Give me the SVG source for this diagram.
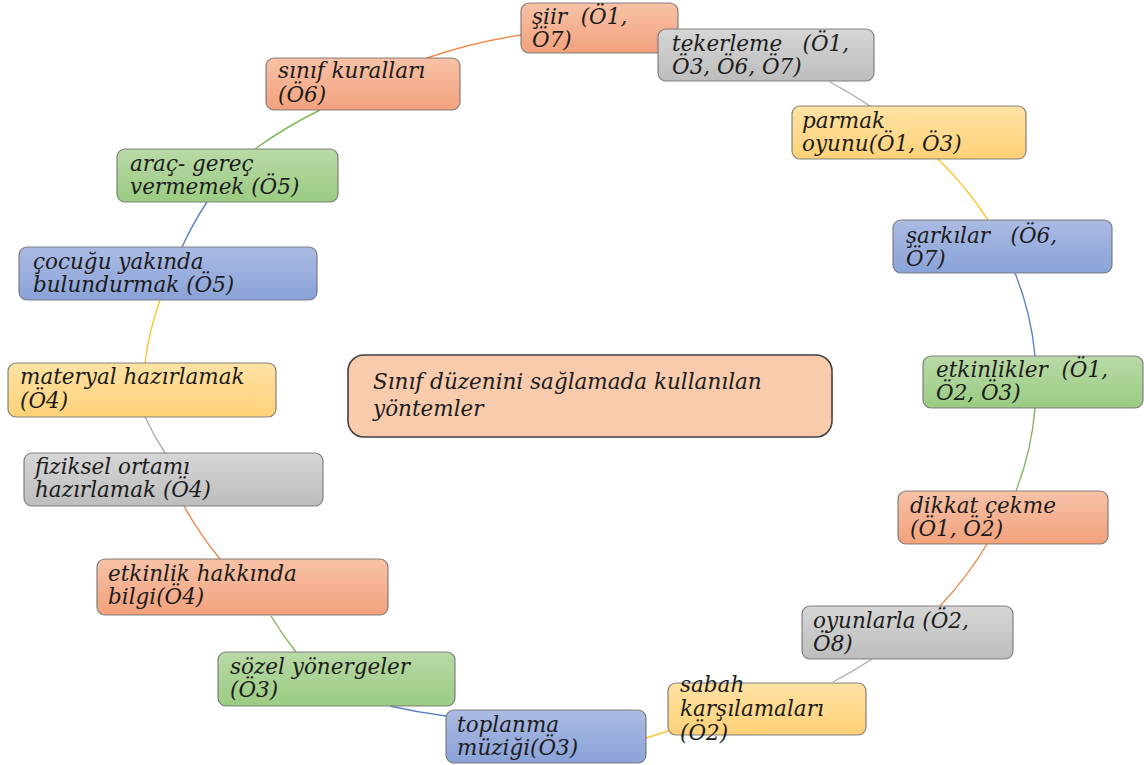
<svg xmlns="http://www.w3.org/2000/svg" width="1144" height="765" viewBox="0 0 1144 765">
<defs>
<linearGradient id="gO" x1="0" y1="0" x2="0" y2="1"><stop offset="0" stop-color="#f7c2a7"/><stop offset="1" stop-color="#f3a17c"/></linearGradient>
<linearGradient id="gG" x1="0" y1="0" x2="0" y2="1"><stop offset="0" stop-color="#d6d6d6"/><stop offset="1" stop-color="#bdbdbd"/></linearGradient>
<linearGradient id="gY" x1="0" y1="0" x2="0" y2="1"><stop offset="0" stop-color="#ffe2a3"/><stop offset="1" stop-color="#ffd178"/></linearGradient>
<linearGradient id="gB" x1="0" y1="0" x2="0" y2="1"><stop offset="0" stop-color="#abbbe3"/><stop offset="1" stop-color="#8aa2d8"/></linearGradient>
<linearGradient id="gN" x1="0" y1="0" x2="0" y2="1"><stop offset="0" stop-color="#b9daa7"/><stop offset="1" stop-color="#9bcb82"/></linearGradient>
</defs>
<style>
.box{stroke:#6f6f6f;stroke-width:1.2;stroke-opacity:0.85}
.o{fill:url(#gO)}.g{fill:url(#gG)}.y{fill:url(#gY)}.b{fill:url(#gB)}.n{fill:url(#gN)}
text{font-family:"DejaVu Serif","Liberation Serif",serif;font-style:italic;font-size:21.5px;fill:#1c1c1c;white-space:pre}
.c{fill:none;stroke-width:1.4}
.co{stroke:#ef8a4c}.cg{stroke:#acacac}.cy{stroke:#ffc233}.cb{stroke:#5a83cc}.cn{stroke:#7fb85a}
</style>
<rect width="1144" height="765" fill="#ffffff"/>
<g id="connectors">
<path class="c cg" d="M 830 82 A 445 355 0 0 1 870 106"/>
<path class="c cy" d="M 938 159 A 445 355 0 0 1 988 220"/>
<path class="c cb" d="M 1015 273 A 445 355 0 0 1 1035 356"/>
<path class="c cn" d="M 1035 408 A 445 355 0 0 1 1016 491"/>
<path class="c co" d="M 987 544 A 445 355 0 0 1 940 606"/>
<path class="c cg" d="M 872 659 A 445 355 0 0 1 833 682"/>
<path class="c cy" d="M 668 731 A 445 355 0 0 1 646 738"/>
<path class="c cb" d="M 446 716 A 445 355 0 0 1 390 706"/>
<path class="c cn" d="M 296 652 A 445 355 0 0 1 271 616"/>
<path class="c co" d="M 220 559 A 445 355 0 0 1 184 506"/>
<path class="c cg" d="M 165 453 A 445 355 0 0 1 145 417"/>
<path class="c cy" d="M 145 363 A 445 355 0 0 1 160 300"/>
<path class="c cb" d="M 182 247 A 445 355 0 0 1 207 202"/>
<path class="c cn" d="M 255 149 A 445 355 0 0 1 320 110"/>
<path class="c co" d="M 427 58 A 445 355 0 0 1 521 35"/>
</g>
<g id="center">
<rect x="348" y="355" width="484" height="82" rx="16" fill="#f8cbad" stroke="#404040" stroke-width="1.6"/>
<text x="373" y="389" font-size="21">Sınıf düzenini sağlamada kullanılan</text>
<text x="373" y="416" font-size="21">yöntemler</text>
</g>
<g id="n1"><rect class="box o" x="521" y="3" width="157" height="50" rx="8"/><text x="532" y="24">şiir  (Ö1,</text><text x="532" y="47">Ö7)</text></g>
<g id="n2"><rect class="box g" x="658" y="29" width="216" height="52" rx="8"/><text x="672" y="51">tekerleme   (Ö1,</text><text x="672" y="74">Ö3, Ö6, Ö7)</text></g>
<g id="n3"><rect class="box y" x="792" y="106" width="234" height="53" rx="8"/><text x="802" y="128">parmak</text><text x="802" y="151">oyunu(Ö1, Ö3)</text></g>
<g id="n4"><rect class="box b" x="893" y="220" width="219" height="53" rx="8"/><text x="906" y="243">şarkılar   (Ö6,</text><text x="906" y="266">Ö7)</text></g>
<g id="n5"><rect class="box n" x="923" y="356" width="220" height="52" rx="8"/><text x="936" y="377">etkinlikler  (Ö1,</text><text x="936" y="400">Ö2, Ö3)</text></g>
<g id="n6"><rect class="box o" x="898" y="491" width="210" height="53" rx="8"/><text x="910" y="513">dikkat çekme</text><text x="910" y="536">(Ö1, Ö2)</text></g>
<g id="n7"><rect class="box g" x="802" y="606" width="211" height="53" rx="8"/><text x="813" y="628">oyunlarla (Ö2,</text><text x="813" y="651">Ö8)</text></g>
<g id="n8"><rect class="box y" x="668" y="683" width="198" height="52" rx="8"/><text x="680" y="692">sabah</text><text x="680" y="716">karşılamaları</text><text x="680" y="740">(Ö2)</text></g>
<g id="n9"><rect class="box b" x="446" y="710" width="200" height="53" rx="8"/><text x="457" y="732">toplanma</text><text x="457" y="755">müziği(Ö3)</text></g>
<g id="n10"><rect class="box n" x="218" y="652" width="237" height="54" rx="8"/><text x="230" y="674">sözel yönergeler</text><text x="230" y="697">(Ö3)</text></g>
<g id="n11"><rect class="box o" x="97" y="559" width="291" height="56" rx="8"/><text x="108" y="581">etkinlik hakkında</text><text x="108" y="604">bilgi(Ö4)</text></g>
<g id="n12"><rect class="box g" x="24" y="453" width="299" height="53" rx="8"/><text x="35" y="474">fiziksel ortamı</text><text x="35" y="497">hazırlamak (Ö4)</text></g>
<g id="n13"><rect class="box y" x="8" y="363" width="268" height="54" rx="8"/><text x="20" y="384">materyal hazırlamak</text><text x="20" y="408">(Ö4)</text></g>
<g id="n14"><rect class="box b" x="19" y="247" width="298" height="53" rx="8"/><text x="33" y="269">çocuğu yakında</text><text x="33" y="292">bulundurmak (Ö5)</text></g>
<g id="n15"><rect class="box n" x="117" y="149" width="221" height="53" rx="8"/><text x="130" y="171">araç- gereç</text><text x="130" y="194">vermemek (Ö5)</text></g>
<g id="n16"><rect class="box o" x="266" y="58" width="194" height="52" rx="8"/><text x="278" y="78">sınıf kuralları</text><text x="278" y="102">(Ö6)</text></g>
</svg>
